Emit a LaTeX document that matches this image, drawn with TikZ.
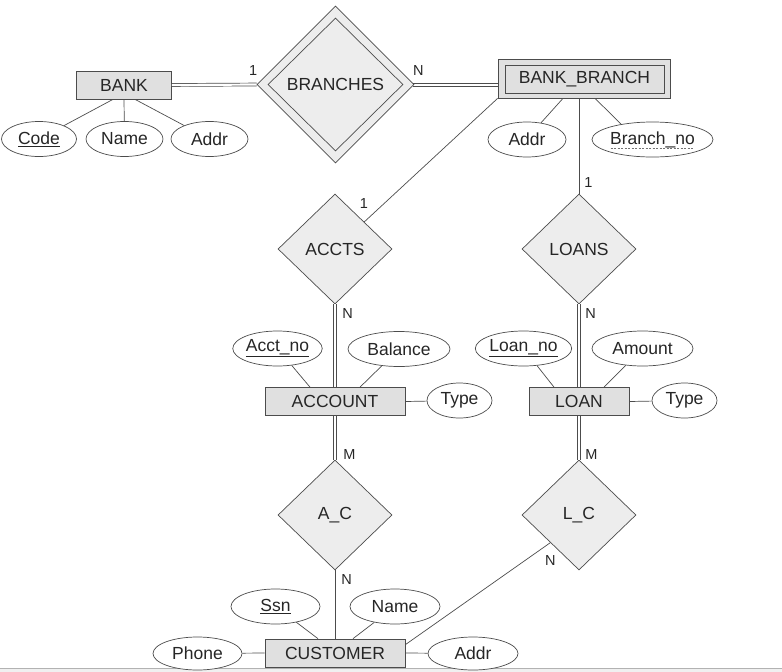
\documentclass[tikz,border=0pt]{standalone}
\usepackage{fontspec}
\setmainfont{Liberation Sans}
\usetikzlibrary{shapes.geometric}

\begin{document}
\begin{tikzpicture}[x=1pt, y=-1pt,
every node/.style = {font=\fontsize{17.5}{20}\selectfont, text=black!85},
        ent/.style = {rectangle, draw=black!70, fill=black!12, line width=0.7pt,
                      inner sep=0pt, minimum width=#1, minimum height=28pt},
        ent/.default = 140pt,
        rel/.style = {diamond, draw=black!70, fill=black!7, line width=0.7pt,
                      inner sep=0pt, minimum width=114pt, minimum height=110pt},
       attr/.style = {ellipse, draw=black!70, fill=white, line width=0.7pt,
                      inner sep=0pt, minimum width=#1, minimum height=35pt},
       link/.style = {draw=black!70, line width=0.7pt},
        dbl/.style = {draw=black!70, line width=0.7pt, double=white, double distance=2.2pt},
       card/.style = {font=\fontsize{14.5}{16}\selectfont, inner sep=2pt}
                        ]
\useasboundingbox (0,0) rectangle (782,672);
\fill[black!6] (0,669) rectangle (782,672);
\draw[black!30, line width=0.8pt] (0,668.5) -- (782,668.5);
% entities
\node (bank)     [ent=95pt] at (124,85) {BANK};
\node (bbout)    [ent=172pt, minimum height=39pt] at (584,78.5) {};
\node (bbranch)  [ent=159pt] at (584.5,79) {BANK\_BRANCH};
\node (account)  [ent] at (335,401.5) {ACCOUNT};
\node (loan)     [ent=100pt] at (579,401.5) {LOAN};
\node (customer) [ent] at (335,653) {CUSTOMER};
% relationships
\node (brout)    [rel, minimum width=157pt, minimum height=157pt] at (335.5,84.5) {};
\node (branches) [rel, minimum width=135pt, minimum height=133pt] at (335.5,84.5) {BRANCHES};
\node (accts)    [rel] at (335,249) {ACCTS};
\node (loans)    [rel] at (579,249) {LOANS};
\node (ac)       [rel] at (335,515) {A\_C};
\node (lc)       [rel] at (579,515) {L\_C};
% attributes
\node (code)     [attr=75pt]  at (39,139)      {\underline{Code}};
\node (bname)    [attr=77pt]  at (124.5,139)   {Name};
\node (baddr)    [attr=77pt]  at (209.5,139)   {Addr};
\node (braddr)   [attr=78pt]  at (527,139.5)   {Addr};
\node (branchno) [attr=121pt] at (652.5,139.5) {Branch\_no};
\node (acctno)   [attr=89pt]  at (277.5,348.5) {\underline{Acct\_no}};
\node (balance)  [attr=102pt] at (399,349)     {Balance};
\node (atype)    [attr=65pt]  at (459.5,400.5) {Type};
\node (loanno)   [attr=87pt]  at (523.5,348.5) {\underline{Loan\_no}};
\node (amount)   [attr=101pt] at (642.5,348.5) {Amount};
\node (ltype)    [attr=65pt]  at (684.5,400.5) {Type};
\node (ssn)      [attr=89pt]  at (275.5,606.5) {\underline{Ssn}};
\node (cname)    [attr=90pt]  at (395,606.5)   {Name};
\node (phone)    [attr=89pt, minimum height=33pt] at (197.5,653.5) {Phone};
\node (caddr)    [attr=90pt, minimum height=33pt] at (473,653.5)   {Addr};
% partial key
\draw[black!55, line width=0.6pt, dash pattern=on 2pt off 1.5pt]
  ([xshift=-42pt, yshift=-9pt]branchno.center) -- ([xshift=42pt, yshift=-9pt]branchno.center);
% relationship links
\draw[dbl] (bank.east) -- node[card, pos=0.96, above=7pt] {1} (brout.west);
\draw[link] ([xshift=-1pt, yshift=1.5pt]brout.east) -- node[card, pos=0.06, above=5.5pt] {N}
            ([yshift=-4.5pt]bbout.west);
\draw[link] ([xshift=-1pt, yshift=-1.5pt]brout.east) -- ([yshift=-7.5pt]bbout.west);
\draw[link] (bbout.south west) -- node[card, pos=0.85, left=14pt] {1} (accts);
\draw[link] ([xshift=-5pt]bbout.south) -- node[card, pos=0.88, right=3pt] {1} (loans.north);
\draw[dbl] (accts.south) -- node[card, pos=0.11, right=5pt] {N} (account.north);
\draw[dbl] (loans.south) -- node[card, pos=0.11, right=4pt] {N} (loan.north);
\draw[dbl] (account.south) -- node[card, pos=0.89, right=6pt] {M} (ac.north);
\draw[dbl] (loan.south) -- node[card, pos=0.89, right=4pt] {M} (lc.north);
\draw[link] (ac.south) -- node[card, pos=0.13, right=4pt] {N} (customer.north);
\draw[link] (lc.south west) -- node[card, pos=0, below=10pt] {N} ([yshift=-6pt]customer.north east);
% attribute links
\draw[link] ([xshift=-11pt]bank.south) -- (code);
\draw[link] (bank.south) -- (bname);
\draw[link] ([xshift=11pt]bank.south) -- (baddr);
\draw[link] ([xshift=-21pt]bbout.south) -- (braddr.50);
\draw[link] ([xshift=11pt]bbout.south) -- (branchno.154);
\draw[link] (acctno) -- ([xshift=-25pt]account.north);
\draw[link] (balance) -- ([xshift=25pt]account.north);
\draw[link] (account.east) -- (atype);
\draw[link] (loanno) -- ([xshift=-25pt]loan.north);
\draw[link] (amount) -- ([xshift=25pt]loan.north);
\draw[link] (loan.east) -- (ltype);
\draw[link] (ssn) -- ([xshift=-17pt]customer.north);
\draw[link] (cname) -- ([xshift=18pt]customer.north);
\draw[link] (phone) -- (customer.west);
\draw[link] (customer.east) -- (caddr);
\end{tikzpicture}
\end{document}
